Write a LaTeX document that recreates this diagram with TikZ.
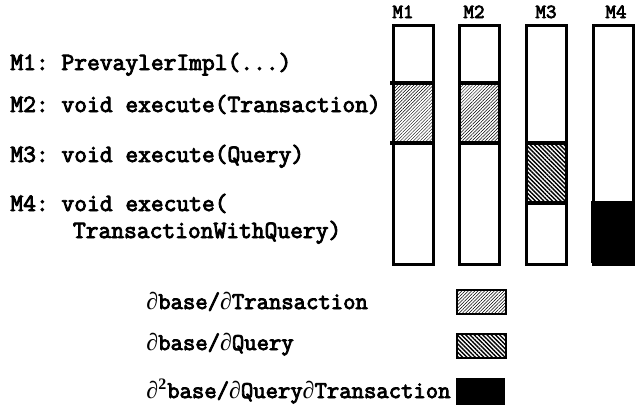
\documentclass[tikz,border=0pt]{standalone}
\usepackage{fontspec}
\setmonofont{Latin Modern Mono}[AutoFakeBold=3.5]
\newfontfamily\dfont{Liberation Serif}
\usetikzlibrary{patterns.meta}
\newcommand{\pd}{{\dfont\char"2202}}
\tikzset{
  code/.style={font=\ttfamily\bfseries\fontsize{12.4}{14}\selectfont, anchor=base west, inner sep=0pt},
  key/.style={font=\ttfamily\bfseries\fontsize{12}{14}\selectfont, anchor=base west, inner sep=0pt},
  head/.style={font=\ttfamily\bfseries\fontsize{10}{11}\selectfont, anchor=base, inner sep=0pt},
  bar/.style={draw, line width=1.6pt},
  divider/.style={line width=1.6pt},
  trhatch/.style={pattern={Lines[angle=45,distance=1.15pt,line width=0.25pt]}},
  qhatch/.style={pattern={Lines[angle=-45,distance=1.5pt,line width=0.7pt]}},
  swatch/.style={draw, line width=0.9pt}
}
\begin{document}
\begin{tikzpicture}[x=0.5pt,y=-0.5pt]
\useasboundingbox (0,0) rectangle (640,408);

% method signatures
\node[code] (s1) at (10,70)  {M1: PrevaylerImpl(...)};
\node[code] (s2) at (10,112) {M2: void execute(Transaction)};
\node[code] (s3) at (10,162) {M3: void execute(Query)};
\node[code] (s4) at (10,211) {M4: void execute(};
\node[code] (s5) at (10,238) {\phantom{M4: v}\hspace{-0.05em}TransactionWithQuery)};

% column headings
\node[head] (h1) at (403,18) {M1};
\node[head] (h2) at (474,18) {M2};
\node[head] (h3) at (546,18) {M3};
\node[head] (h4) at (616,18) {M4};

% filled segments
\fill[trhatch] (392,83) rectangle (432,143);
\fill[trhatch] (458,83) rectangle (498,143);
\fill[qhatch]  (525,143) rectangle (565,203);
\fill[black]   (591,203) rectangle (632,263);

% segment borders
\draw[divider] (390,83) -- (432,83);
\draw[divider] (390,143) -- (432,143);
\draw[divider] (458,83) -- (498,83);
\draw[divider] (458,143) -- (498,143);
\draw[divider] (525,143) -- (565,143);
\draw[divider] (525,203) -- (565,203);
\draw[divider] (591,203) -- (632,203);

% columns
\node[bar, minimum width=20pt, minimum height=119.5pt, inner sep=0pt, anchor=north west] (c1) at (392,24) {};
\node[bar, minimum width=20pt, minimum height=119.5pt, inner sep=0pt, anchor=north west] (c2) at (458,24) {};
\node[bar, minimum width=20pt, minimum height=119.5pt, inner sep=0pt, anchor=north west] (c3) at (525,24) {};
\node[bar, minimum width=20pt, minimum height=119.5pt, inner sep=0pt, anchor=north west] (c4) at (592,24) {};

% legend
\node[key] (l1) at (146,309) {\pd base/\pd Transaction};
\node[key] (l2) at (146,350) {\pd base/\pd Query};
\node[key] (l3) at (146,398) {\pd\textsuperscript{\dfont 2}base/\pd Query\pd Transaction};
\node[swatch, trhatch, minimum width=24.5pt, minimum height=12pt, inner sep=0pt, anchor=north west] (k1) at (456,289) {};
\node[swatch, qhatch, minimum width=24.5pt, minimum height=12pt, inner sep=0pt, anchor=north west] (k2) at (456,333) {};
\node[fill=black, minimum width=24.5pt, minimum height=13.5pt, inner sep=0pt, anchor=north west] (k3) at (456,378) {};
\end{tikzpicture}
\end{document}
